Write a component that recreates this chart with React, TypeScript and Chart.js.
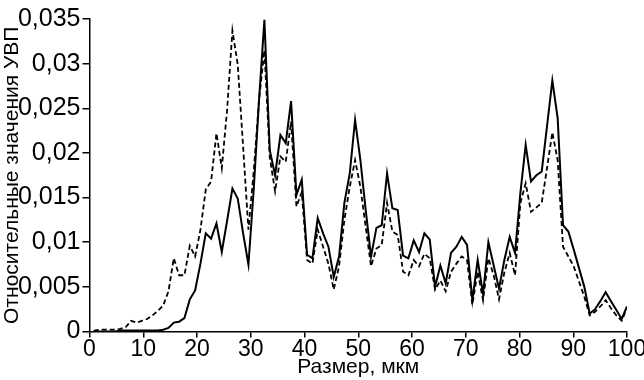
import React, { useEffect, useRef } from "react";
import { Chart, registerables } from "chart.js";

Chart.register(...registerables);

// Sizes (мкм) at which the values were sampled
const sizes: number[] = [
  0.8, 1.79, 2.78, 3.78, 4.77, 5.76, 6.75, 7.74, 8.74, 9.73,
  10.72, 11.71, 12.7, 13.7, 14.69, 15.68, 16.67, 17.66, 18.66, 19.65,
  20.64, 21.63, 22.62, 23.62, 24.61, 25.6, 26.59, 27.58, 28.58, 29.57,
  30.56, 31.55, 32.54, 33.54, 34.53, 35.52, 36.51, 37.5, 38.5, 39.49,
  40.48, 41.47, 42.46, 43.46, 44.45, 45.44, 46.43, 47.42, 48.42, 49.41,
  50.4, 51.39, 52.38, 53.38, 54.37, 55.36, 56.35, 57.34, 58.34, 59.33,
  60.32, 61.31, 62.3, 63.3, 64.29, 65.28, 66.27, 67.26, 68.26, 69.25,
  70.24, 71.23, 72.22, 73.22, 74.21, 75.2, 76.19, 77.18, 78.18, 79.17,
  80.16, 81.15, 82.14, 83.14, 84.13, 85.12, 86.11, 87.1, 88.1, 89.09,
  90.08, 91.07, 92.06, 93.06, 94.05, 95.04, 96.03, 97.02, 98.02, 99.01,
  100.0,
];

// Solid curve
const solidValues: number[] = [
  0.0, 0.0, 0.0, 0.0, 0.0, 0.0001, 0.0001, 0.0001, 0.0001, 0.0001,
  0.0001, 0.0001, 0.0001, 0.0002, 0.0004, 0.001, 0.0011, 0.0015, 0.0036, 0.0046,
  0.0076, 0.011, 0.0104, 0.0121, 0.0089, 0.0124, 0.016, 0.0149, 0.011, 0.0075,
  0.016, 0.026, 0.0349, 0.0203, 0.0175, 0.022, 0.0211, 0.0258, 0.0153, 0.017,
  0.0086, 0.0082, 0.0127, 0.011, 0.0095, 0.0061, 0.0084, 0.0144, 0.0177, 0.0237,
  0.0192, 0.0136, 0.0084, 0.0116, 0.0119, 0.0177, 0.0138, 0.0136, 0.0085, 0.0082,
  0.0102, 0.0089, 0.011, 0.0103, 0.005, 0.0074, 0.0054, 0.0088, 0.0095, 0.0106,
  0.0097, 0.0035, 0.008, 0.0042, 0.01, 0.0074, 0.0048, 0.008, 0.0106, 0.0088,
  0.0155, 0.0209, 0.0168, 0.0175, 0.0179, 0.023, 0.0281, 0.0239, 0.0119, 0.0112,
  0.0092, 0.0071, 0.005, 0.002, 0.0025, 0.0034, 0.0044, 0.0034, 0.0024, 0.0014,
  0.0028,
];

// Dashed curve
const dashedValues: number[] = [
  0.0001, 0.0002, 0.0002, 0.0002, 0.0002, 0.0003, 0.0005, 0.0012, 0.001, 0.0012,
  0.0014, 0.0018, 0.0023, 0.0029, 0.0045, 0.0082, 0.0063, 0.0063, 0.0096, 0.0084,
  0.0114, 0.0159, 0.0168, 0.0222, 0.0183, 0.0248, 0.0337, 0.0299, 0.0207, 0.0114,
  0.018, 0.026, 0.0315, 0.0195, 0.0157, 0.0196, 0.019, 0.0235, 0.014, 0.0156,
  0.008, 0.0076, 0.0114, 0.0095, 0.0076, 0.0047, 0.0073, 0.0125, 0.0162, 0.0192,
  0.0162, 0.0117, 0.0073, 0.0093, 0.0097, 0.0144, 0.0112, 0.0108, 0.0067, 0.0063,
  0.008, 0.0073, 0.0087, 0.0082, 0.0047, 0.0057, 0.0045, 0.0067, 0.0076, 0.0084,
  0.008, 0.003, 0.0067, 0.0035, 0.0082, 0.0063, 0.0036, 0.0066, 0.0088, 0.0063,
  0.0144, 0.0166, 0.0134, 0.0139, 0.0144, 0.0183, 0.0223, 0.0192, 0.0095, 0.0084,
  0.0073, 0.0056, 0.0039, 0.0018, 0.0022, 0.0028, 0.0035, 0.0026, 0.0018, 0.0012,
  0.0026,
];

const yTickValues: number[] = [0, 0.005, 0.01, 0.015, 0.02, 0.025, 0.03, 0.035];
const yTickLabels: string[] = ["0", "0,005", "0,01", "0,015", "0,02", "0,025", "0,03", "0,035"];

const xTitle = "Размер, мкм";
const yTitle = "Относительные значения УВП";

const FONT = "'Liberation Sans', Arial, sans-serif";

export default function App() {
  const ref = useRef<HTMLCanvasElement | null>(null);

  useEffect(() => {
    const canvas = ref.current;
    if (!canvas) return;
    const toPts = (vals: number[]) => vals.map((v, i) => ({ x: sizes[i], y: v }));

    const chart = new Chart(canvas, {
      type: "line",
      data: {
        datasets: [
          {
            label: "dashed",
            data: toPts(dashedValues),
            borderColor: "#000",
            borderWidth: 1.8,
            borderDash: [5, 3],
            pointRadius: 0,
            tension: 0,
            fill: false,
            order: 2,
          },
          {
            label: "solid",
            data: toPts(solidValues),
            borderColor: "#000",
            borderWidth: 2,
            pointRadius: 0,
            tension: 0,
            fill: false,
            order: 1,
          },
        ],
      },
      options: {
        responsive: false,
        animation: false,
        devicePixelRatio: 1,
        layout: { padding: { left: 0, right: 17, top: 19, bottom: 0 } },
        plugins: {
          legend: { display: false },
          tooltip: { enabled: false },
        },
        scales: {
          x: {
            type: "linear",
            min: 0,
            max: 100,
            afterFit: (scale: any) => {
              scale.height = 48.5;
              scale.paddingLeft = 0;
              scale.paddingRight = 0;
            },
            ticks: {
              stepSize: 10,
              color: "#000",
              font: { family: FONT, size: 23 },
              padding: -2,
              maxRotation: 0,
              autoSkip: false,
            },
            grid: {
              display: true,
              drawOnChartArea: false,
              drawTicks: true,
              tickLength: 6,
              color: "#000",
              lineWidth: 1.5,
            },
            border: { display: true, color: "#000", width: 1.5 },
            title: {
              display: true,
              text: xTitle,
              color: "#000",
              font: { family: FONT, size: 21 },
              padding: 0,
            },
          },
          y: {
            type: "linear",
            min: 0,
            max: 0.035,
            afterFit: (scale: any) => {
              scale.width = 89.5;
              scale.paddingTop = 0;
              scale.paddingBottom = 0;
            },
            afterBuildTicks: (scale: any) => {
              scale.ticks = yTickValues.map((v) => ({ value: v }));
            },
            ticks: {
              color: "#000",
              font: { family: FONT, size: 25 },
              padding: 2,
              callback: (value: any) => {
                const idx = yTickValues.findIndex((t) => Math.abs(t - Number(value)) < 1e-9);
                return idx >= 0 ? yTickLabels[idx] : "";
              },
            },
            grid: {
              display: true,
              drawOnChartArea: false,
              drawTicks: true,
              tickLength: 7,
              color: "#000",
              lineWidth: 1.5,
            },
            border: { display: true, color: "#000", width: 1.5 },
            title: {
              display: true,
              text: yTitle,
              color: "#000",
              font: { family: FONT, size: 21 },
              padding: { top: 0, bottom: 0 },
            },
          },
        },
      },
    });

    return () => chart.destroy();
  }, []);

  return (
    <div style={{ position: "absolute", left: 0, top: 0, width: 644, height: 380, background: "#fff" }}>
      <canvas ref={ref} width={644} height={380} style={{ display: "block" }} />
    </div>
  );
}
